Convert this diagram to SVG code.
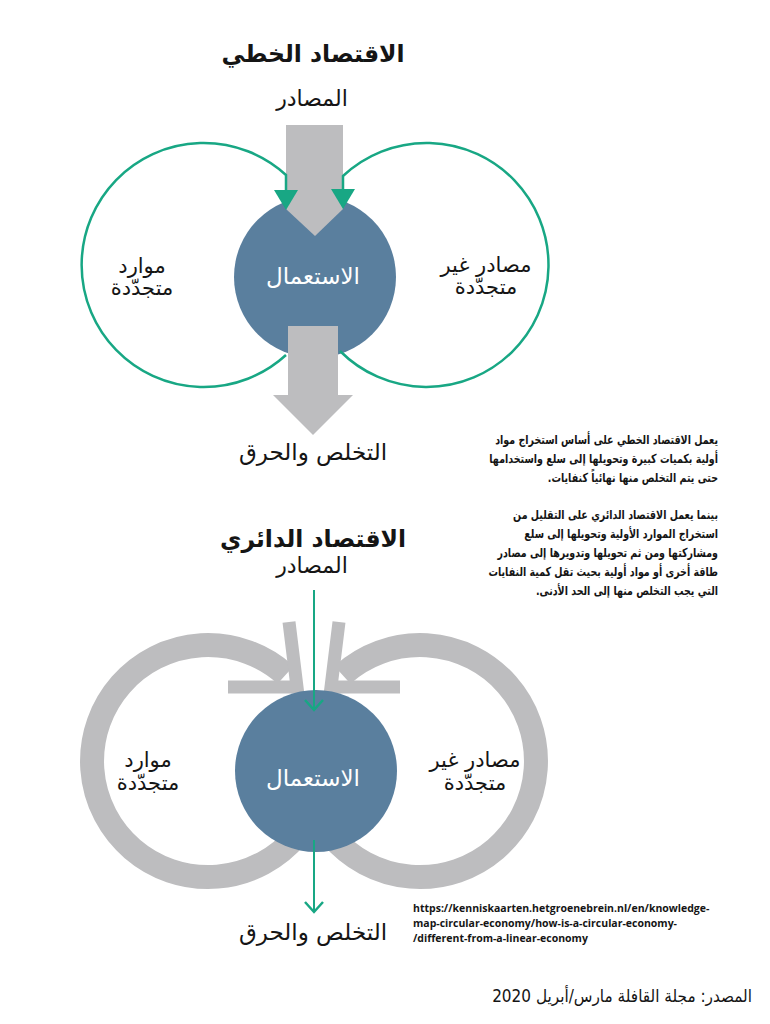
<svg xmlns="http://www.w3.org/2000/svg" width="770" height="1024" viewBox="0 0 770 1024">
<style>
.ar{font-family:"DejaVu Sans","Noto Sans",sans-serif;fill:#151515;direction:rtl}
.title{font-size:23.5px;font-weight:bold;text-anchor:middle}
.lbl{font-size:21px;text-anchor:middle}
.src2{font-size:22px;text-anchor:middle}
.use{font-size:23px;fill:#ffffff;text-anchor:middle}
.para{font-size:12.5px;font-weight:bold;text-anchor:start}
.url{font-family:"Open Sans","DejaVu Sans",sans-serif;font-size:10.5px;font-weight:bold;fill:#151515}
.src{font-size:17px;text-anchor:start}
.blue{fill:#5a7f9e}
.grey{fill:#bdbdbf}
.garc{fill:none;stroke:#18a784;stroke-width:2.5}
.gline{fill:none;stroke:#18a784;stroke-width:2}
.ring{fill:none;stroke:#bdbdbf;stroke-width:24}
.chev{fill:none;stroke:#bdbdbf;stroke-width:13;stroke-linejoin:miter;stroke-miterlimit:10}
</style>
<defs>
<marker id="tri" viewBox="0 0 20 24" refX="0" refY="12" markerWidth="20" markerHeight="24" markerUnits="userSpaceOnUse" orient="auto">
<path d="M0,0 L20,12 L0,24 z" fill="#18a784"/>
</marker>
<marker id="open" viewBox="-14 -12 16 24" refX="0" refY="0" markerWidth="16" markerHeight="24" markerUnits="userSpaceOnUse" orient="auto">
<path d="M-10,-9 L0,0 L-10,9" fill="none" stroke="#18a784" stroke-width="2.5"/>
</marker>
</defs>

<!-- Linear economy -->
<text class="ar title" x="313" y="62">الاقتصاد الخطي</text>
<g id="lin-sources"><text class="ar src2" x="312" y="106">المصادر</text></g>
<g id="lin-use">
<circle class="blue" cx="315" cy="277" r="81"/>
</g>
<g id="lin-arrows">
<polygon class="grey" points="286,125 343,125 343,209 315,236 286,209"/>
<polygon class="grey" points="288,326 338,326 338,395 353,395 313,435 273,395 288,395"/>
</g>
<g id="lin-connectors">
<path class="garc" d="M286,355 A122,122 0 1 1 286,175 L286,190" marker-end="url(#tri)"/>
<path class="garc" d="M340,351 A122,122 0 1 0 343,176 L343,189" marker-end="url(#tri)"/>
</g>
<text class="ar use" x="313" y="284">الاستعمال</text>
<g id="lin-renew"><text class="ar lbl" x="142" y="273">موارد</text><text class="ar lbl" x="142" y="295">متجدّدة</text></g>
<g id="lin-nonrenew"><text class="ar lbl" x="486" y="272">مصادر غير</text><text class="ar lbl" x="486" y="294">متجدّدة</text></g>
<g id="lin-disposal"><text class="ar lbl" x="313" y="460" style="font-size:23px">التخلص والحرق</text></g>

<!-- Paragraph -->
<g id="paragraph" transform="translate(718,0) scale(0.76,1)">
<text class="ar para" x="0" y="444">يعمل الاقتصاد الخطي على أساس استخراج مواد</text>
<text class="ar para" x="0" y="463">أولية بكميات كبيرة وتحويلها إلى سلع واستخدامها</text>
<text class="ar para" x="0" y="482">حتى يتم التخلص منها نهائياً كنفايات.</text>
<text class="ar para" x="0" y="519">بينما يعمل الاقتصاد الدائري على التقليل من</text>
<text class="ar para" x="0" y="538">استخراج الموارد الأولية وتحويلها إلى سلع</text>
<text class="ar para" x="0" y="557">ومشاركتها ومن ثم تحويلها وتدويرها إلى مصادر</text>
<text class="ar para" x="0" y="576">طاقة أخرى أو مواد أولية بحيث تقل كمية النفايات</text>
<text class="ar para" x="0" y="595">التي يجب التخلص منها إلى الحد الأدنى.</text>
</g>

<!-- Circular economy -->
<text class="ar title" x="313" y="547">الاقتصاد الدائري</text>
<g id="circ-sources"><text class="ar src2" x="312" y="573">المصادر</text></g>
<g id="circ-rings">
<path class="ring" d="M296.9,835.6 A116,116 0 1 1 285.6,674.8"/>
<polyline class="chev" points="289,622 297,687 228,687"/>
<path class="ring" d="M331.1,835.6 A116,116 0 1 0 342.4,674.8"/>
<polyline class="chev" points="339,622 331,687 400,687"/>
</g>
<g id="circ-use">
<circle class="blue" cx="316" cy="771" r="81"/>
<text class="ar use" x="313" y="786">الاستعمال</text>
</g>
<g id="circ-connectors">
<path class="gline" d="M314,590 L314,710" marker-end="url(#open)"/>
<path class="gline" d="M314,840 L314,912" marker-end="url(#open)"/>
</g>
<g id="circ-renew"><text class="ar lbl" x="148" y="767">موارد</text><text class="ar lbl" x="148" y="790">متجدّدة</text></g>
<g id="circ-nonrenew"><text class="ar lbl" x="475" y="767">مصادر غير</text><text class="ar lbl" x="475" y="790">متجدّدة</text></g>
<g id="circ-disposal"><text class="ar lbl" x="313" y="940" style="font-size:23px">التخلص والحرق</text></g>

<g id="url">
<text class="url" x="413" y="912">https://kenniskaarten.hetgroenebrein.nl/en/knowledge-</text>
<text class="url" x="413" y="927">map-circular-economy/how-is-a-circular-economy-</text>
<text class="url" x="413" y="942">/different-from-a-linear-economy</text>
</g>
<g id="source" transform="translate(752,0) scale(0.9,1)">
<text class="ar src" x="0" y="1002">المصدر: مجلة القافلة مارس/أبريل 2020</text>
</g>
</svg>
